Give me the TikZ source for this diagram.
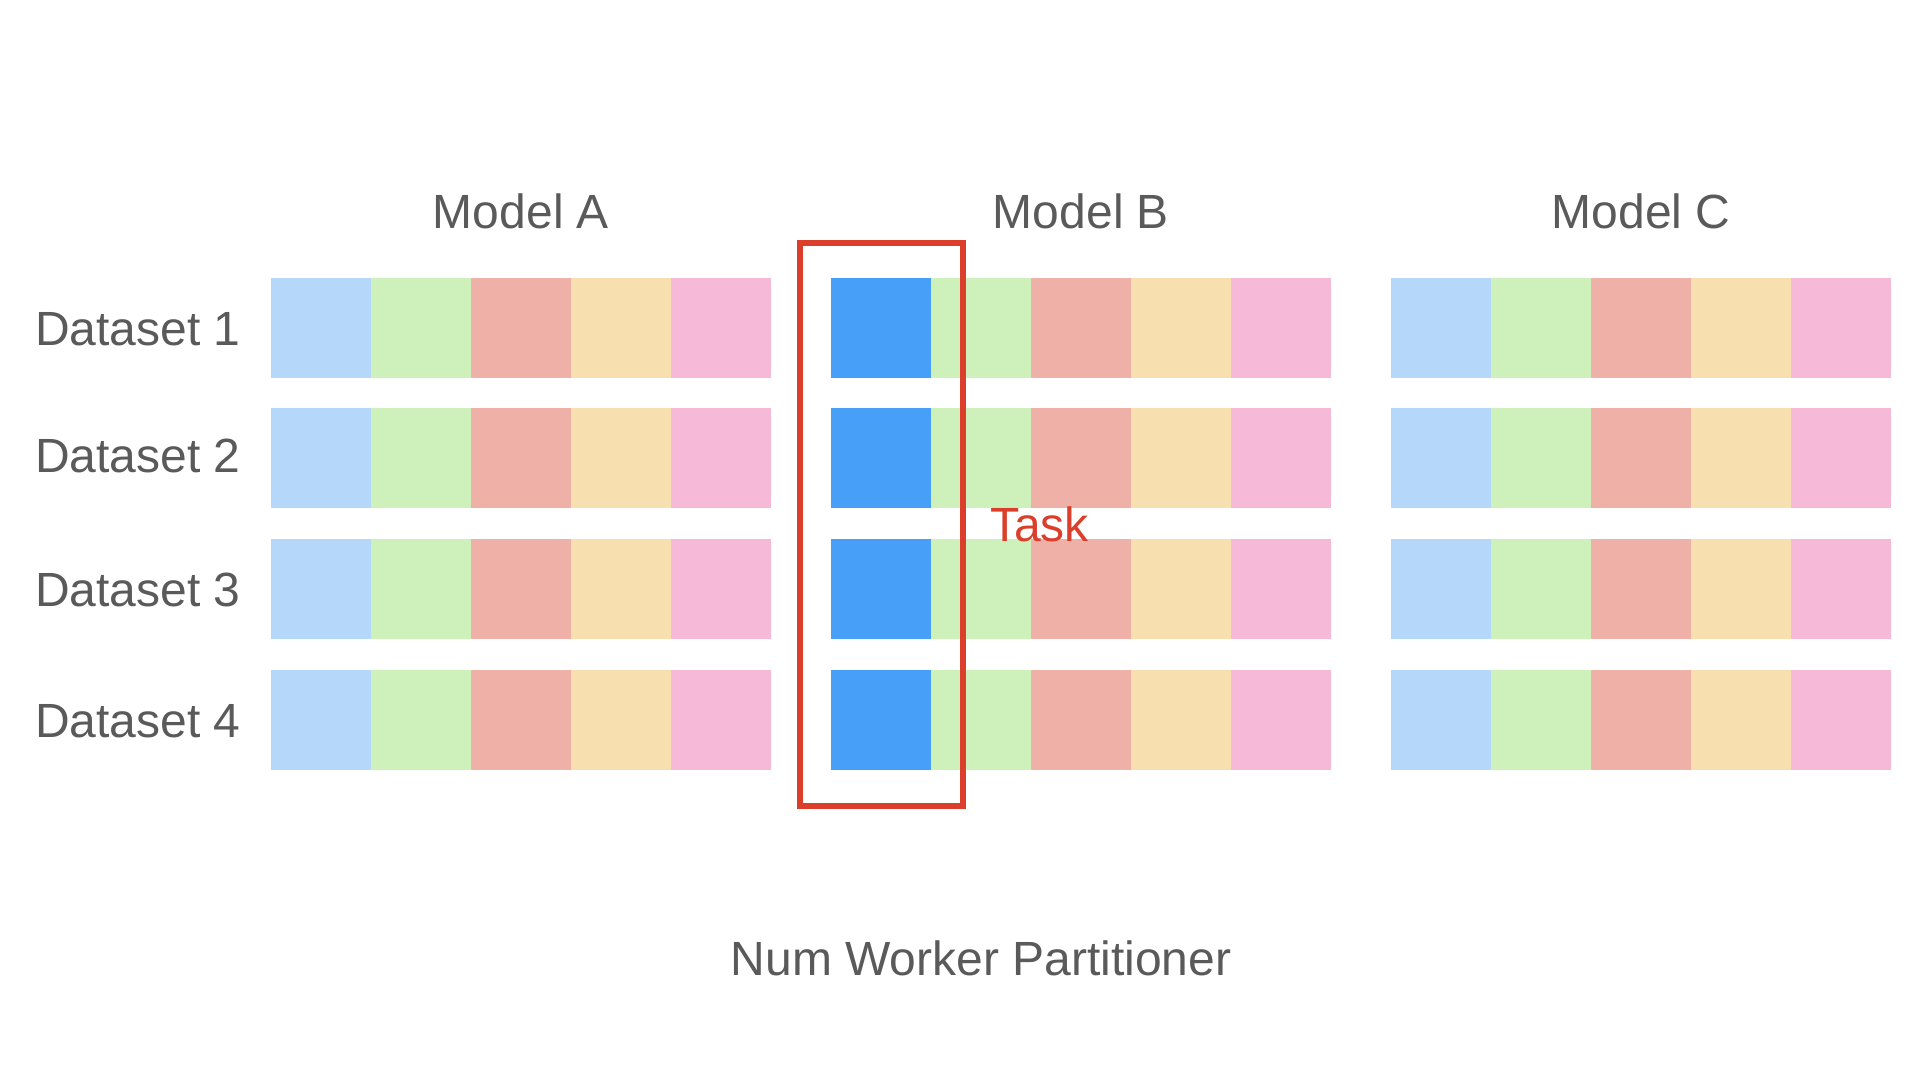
\documentclass[tikz,border=0pt]{standalone}
\usepackage{fontspec}
\setmainfont{Liberation Sans}
\definecolor{txtgray}{HTML}{5A5A5A}
\definecolor{cblue}{HTML}{B5D8FA}
\definecolor{cgreen}{HTML}{CEF0BA}
\definecolor{csalmon}{HTML}{EFB1A7}
\definecolor{corange}{HTML}{F8DFB0}
\definecolor{cpink}{HTML}{F6BAD8}
\definecolor{cdeep}{HTML}{489FF7}
\definecolor{tred}{HTML}{DB3E2A}
\tikzset{
  cell/.style={minimum width=100pt, minimum height=100pt, inner sep=0pt, outer sep=0pt, draw=none, anchor=north west},
  lbl/.style={text=txtgray, font=\fontsize{48}{58}\selectfont, inner sep=0pt},
  taskbox/.style={draw=tred, line width=6pt, minimum width=163pt, minimum height=563pt, inner sep=0pt, outer sep=0pt, anchor=north west, fill=none},
  tasklbl/.style={text=tred, font=\fontsize{48}{58}\selectfont, inner sep=0pt, anchor=base west}
}
\begin{document}
\begin{tikzpicture}[x=1pt, y=-1pt]
\useasboundingbox (0,0) rectangle (1920,1080);
\fill[white] (0,0) rectangle (1920,1080);
% model titles
\node[lbl, anchor=base] (mA) at (521,228.5) {Model A};
\node[lbl, anchor=base] (mB) at (1081,228.5) {Model B};
\node[lbl, anchor=base] (mC) at (1641,228.5) {Model C};
% dataset labels
\node[lbl, anchor=base west] (ds1) at (35,345.5) {Dataset 1};
\node[lbl, anchor=base west] (ds2) at (35,472) {Dataset 2};
\node[lbl, anchor=base west] (ds3) at (35,606.5) {Dataset 3};
\node[lbl, anchor=base west] (ds4) at (35,737) {Dataset 4};
% cells
\foreach \m/\ml in {0/A,1/B,2/C}{
  \foreach \r in {1,...,4}{
    \foreach \c/\col in {1/cblue,2/cgreen,3/csalmon,4/corange,5/cpink}{
      \pgfmathsetmacro{\xx}{271+560*\m+100*(\c-1)}
      \pgfmathsetmacro{\yy}{277.5+130.67*(\r-1)}
      \ifnum\m=1 \ifnum\c=1
        \node[cell, fill=cdeep] (c\ml-\r-\c) at (\xx,\yy) {};
      \else
        \node[cell, fill=\col] (c\ml-\r-\c) at (\xx,\yy) {};
      \fi\else
        \node[cell, fill=\col] (c\ml-\r-\c) at (\xx,\yy) {};
      \fi
    }
  }
}
% task box
\node[taskbox] (tbox) at (800,243) {};
\node[tasklbl] (task) at (990,541.7) {Task};
% bottom caption
\node[lbl, anchor=base] (part) at (981,975) {Num Worker Partitioner};
\end{tikzpicture}
\end{document}
